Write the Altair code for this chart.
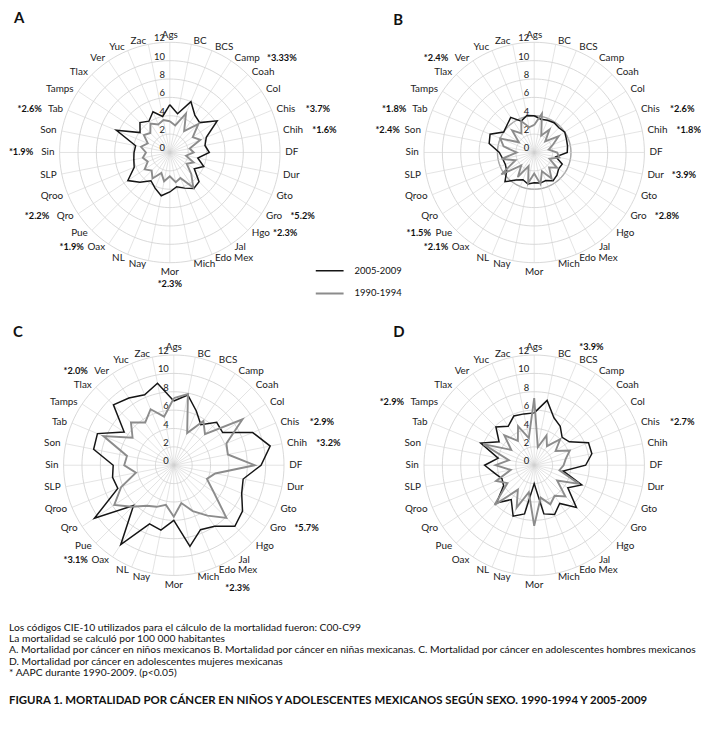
import altair as alt
import pandas as pd

STATES = ["Ags", "BC", "BCS", "Camp", "Coah", "Col", "Chis", "Chih", "DF", "Dur",
          "Gto", "Gro", "Hgo", "Jal", "Edo Mex", "Mich", "Mor", "Nay", "NL", "Oax",
          "Pue", "Qro", "Qroo", "SLP", "Sin", "Son", "Tab", "Tamps", "Tlax", "Ver",
          "Yuc", "Zac"]
PERIODS = ["2005-2009", "1990-1994"]

# A. niños
A_2005 = [5.2, 4.3, 6.0, 4.9, 4.6, 6.2, 4.3, 3.9, 4.3, 3.1, 4.0, 3.2, 4.5, 4.7, 4.2, 3.8,
          4.3, 4.8, 4.2, 3.7, 4.6, 5.5, 4.2, 4.0, 3.9, 3.8, 6.3, 3.9, 4.6, 4.1, 4.8, 4.0]
A_1990 = [3.4, 3.0, 4.6, 2.8, 4.4, 3.0, 3.6, 2.2, 2.6, 1.8, 2.8, 2.2, 3.3, 4.6, 3.0, 3.3,
          2.6, 3.2, 2.4, 3.4, 2.8, 3.3, 2.6, 3.0, 2.6, 3.2, 2.6, 3.4, 3.0, 3.8, 3.3, 3.6]
# B. niñas
B_2005 = [4.0, 3.7, 3.8, 3.9, 3.8, 4.0, 3.8, 3.7, 3.6, 2.4, 3.3, 3.2, 3.5, 3.7, 3.3, 3.4,
          3.3, 3.5, 3.2, 3.6, 4.5, 3.6, 3.4, 3.5, 3.8, 5.0, 5.2, 4.0, 4.2, 4.6, 3.7, 4.1]
B_1990 = [3.0, 4.3, 2.0, 3.0, 1.7, 3.2, 2.2, 1.6, 2.5, 2.8, 1.8, 3.0, 2.3, 3.4, 2.2, 3.5,
          2.3, 3.4, 1.6, 3.2, 2.0, 4.3, 2.2, 3.6, 1.9, 3.4, 4.0, 2.0, 3.4, 2.5, 3.7, 2.8]
# C. adolescentes hombres
C_2005 = [7.0, 7.8, 6.4, 5.3, 6.6, 6.4, 9.3, 10.7, 9.5, 7.7, 8.0, 9.0, 9.4, 8.0, 7.6, 9.0,
          6.0, 7.2, 6.9, 10.4, 6.2, 10.4, 6.6, 6.8, 6.6, 8.9, 9.0, 6.5, 9.3, 8.8, 8.3, 9.1]
C_1990 = [7.3, 7.9, 3.8, 5.8, 4.8, 9.0, 6.2, 6.0, 8.8, 4.6, 3.9, 5.2, 8.1, 6.6, 5.4, 4.2,
          5.6, 4.4, 4.9, 5.3, 6.4, 7.8, 6.2, 4.2, 5.4, 5.2, 8.3, 5.4, 6.6, 5.6, 6.6, 5.4]
# D. adolescentes mujeres
D_2005 = [5.7, 7.2, 5.6, 5.1, 4.3, 4.6, 6.4, 6.4, 5.6, 3.2, 5.6, 4.4, 6.5, 5.0, 5.8, 5.4,
          2.0, 5.4, 6.0, 4.5, 5.8, 4.0, 3.8, 4.4, 5.4, 4.0, 6.3, 4.6, 5.9, 5.1, 5.8, 5.7]
D_1990 = [7.3, 2.0, 3.5, 2.5, 4.0, 2.8, 4.2, 3.5, 3.2, 2.8, 5.3, 3.0, 4.8, 4.0, 4.6, 3.6,
          6.6, 3.0, 5.0, 3.2, 6.1, 3.5, 4.5, 2.6, 4.2, 2.8, 6.0, 3.0, 4.6, 3.2, 4.6, 3.0]

RING_VALUES = [2, 4, 6, 8, 10, 12]
RING_LABELS = [0, 2, 4, 6, 8, 10, 12]
B_EMPHASIS_RING = [4]

A_NOTES_STATE = ["Camp", "Chis", "Chih", "Gro", "Hgo", "Mor", "Oax", "Qro", "Sin", "Tab"]
A_NOTES_TEXT = ["*3.33%", "*3.7%", "*1.6%", "*5.2%", "*2.3%", "*2.3%", "*1.9%", "*2.2%", "*1.9%", "*2.6%"]
B_NOTES_STATE = ["Ver", "Tab", "Son", "Chis", "Chih", "Dur", "Gro", "Pue", "Oax"]
B_NOTES_TEXT = ["*2.4%", "*1.8%", "*2.4%", "*2.6%", "*1.8%", "*3.9%", "*2.8%", "*1.5%", "*2.1%"]
C_NOTES_STATE = ["Ver", "Chis", "Chih", "Gro", "Edo Mex", "Oax"]
C_NOTES_TEXT = ["*2.0%", "*2.9%", "*3.2%", "*5.7%", "*2.3%", "*3.1%"]
D_NOTES_STATE = ["BCS", "Chis", "Tamps"]
D_NOTES_TEXT = ["*3.9%", "*2.7%", "*2.9%"]

FOOTNOTES = [
    "Los códigos CIE-10 utilizados para el cálculo de la mortalidad fueron: C00-C99",
    "La mortalidad se calculó por 100 000 habitantes",
    "A. Mortalidad por cáncer en niños mexicanos B. Mortalidad por cáncer en niñas mexicanas. C. Mortalidad por cáncer en adolescentes hombres mexicanos",
    "D. Mortalidad por cáncer en adolescentes mujeres mexicanas",
    "* AAPC  durante 1990-2009. (p<0.05)",
]
CAPTION = "FIGURA 1. MORTALIDAD POR CÁNCER EN NIÑOS Y ADOLESCENTES MEXICANOS SEGÚN SEXO. 1990-1994 Y 2005-2009"

FONT = "Lato"
K = 9.25  # px per unit
ANG = "datum.idx * PI / 16"


def radar(letter, v2005, v1990, note_states, note_texts, left_px, right_px, top_px,
          bottom_px, letter_x, letter_y, emph=None, extra=()):
    w = left_px + right_px
    h = top_px + bottom_px
    xs = alt.Scale(domain=[-left_px / K, right_px / K], nice=False, zero=False)
    ys = alt.Scale(domain=[-bottom_px / K, top_px / K], nice=False, zero=False)
    X = lambda f: alt.X(f, scale=xs, axis=None)
    Y = lambda f: alt.Y(f, scale=ys, axis=None)

    ring_rows = [{"ring": r, "step": s} for r in RING_VALUES for s in range(129)]
    rings = alt.Chart(pd.DataFrame(ring_rows)).transform_calculate(
        x="datum.ring * sin(datum.step * PI / 64)",
        y="datum.ring * cos(datum.step * PI / 64)",
    ).mark_line(color="#cfcfcf", strokeWidth=0.8).encode(
        x=X("x:Q"), y=Y("y:Q"), detail="ring:N", order="step:Q")

    layers = [rings]
    if emph:
        emph_rows = [{"ring": r, "step": s} for r in emph for s in range(129)]
        layers.append(alt.Chart(pd.DataFrame(emph_rows)).transform_calculate(
            x="datum.ring * sin(datum.step * PI / 64)",
            y="datum.ring * cos(datum.step * PI / 64)",
        ).mark_line(color="#a8a8a8", strokeWidth=1.4).encode(
            x=X("x:Q"), y=Y("y:Q"), detail="ring:N", order="step:Q"))

    sdf = pd.DataFrame({"state": STATES, "idx": list(range(32))})
    base_s = alt.Chart(sdf).transform_calculate(
        s="sin(" + ANG + ")", c="cos(" + ANG + ")", z="0"
    ).transform_calculate(
        sx="12 * datum.s", sy="12 * datum.c",
        lx="12.4 * datum.s", ly="12.4 * datum.c")

    spokes = base_s.mark_rule(color="#d2d2d2", strokeWidth=0.6).encode(
        x=X("z:Q"), y=Y("z:Q"), x2="sx:Q", y2="sy:Q")
    layers.append(spokes)

    rl = alt.Chart(pd.DataFrame({"v": RING_LABELS})).transform_calculate(z="0").mark_text(
        align="right", baseline="middle", dx=-5, dy=-4, font=FONT, fontSize=9.5,
        color="#222").encode(x=X("z:Q"), y=Y("v:Q"), text="v:Q")
    layers.append(rl)

    rows = []
    for p, vals in zip(PERIODS, [v2005, v1990]):
        for i in range(33):
            rows.append({"period": p, "idx": i, "state": STATES[i % 32],
                         "value": vals[i % 32]})
    series = alt.Chart(pd.DataFrame(rows)).transform_calculate(
        x="datum.value * sin(" + ANG + ")", y="datum.value * cos(" + ANG + ")"
    ).mark_line(strokeJoin="miter").encode(
        x=X("x:Q"), y=Y("y:Q"),
        color=alt.Color("period:N", scale=alt.Scale(domain=PERIODS, range=["#151515", "#8c8c8c"]),
                        legend=alt.Legend(title=None, orient="none", legendX=308, legendY=256,
                                          symbolType="stroke", symbolSize=784,
                                          symbolStrokeWidth=1.6, labelFont=FONT,
                                          labelFontSize=9.5, labelOffset=10,
                                          clipHeight=12, rowPadding=11, labelColor="#111")),
        strokeWidth=alt.StrokeWidth("period:N", scale=alt.Scale(domain=PERIODS, range=[1.5, 1.9]),
                                    legend=None),
        order="idx:Q")
    layers.append(series)

    lab_kw = dict(font=FONT, fontSize=10, color="#222")
    layers += [
        base_s.transform_filter("datum.s > 0.1").mark_text(
            align="left", baseline="middle", dx=1.5, **lab_kw).encode(
            x=X("lx:Q"), y=Y("ly:Q"), text="state:N"),
        base_s.transform_filter("datum.s < -0.1").mark_text(
            align="right", baseline="middle", dx=-1.5, **lab_kw).encode(
            x=X("lx:Q"), y=Y("ly:Q"), text="state:N"),
        base_s.transform_filter("abs(datum.s) <= 0.1 && datum.c > 0").mark_text(
            align="center", baseline="bottom", dy=1, **lab_kw).encode(
            x=X("lx:Q"), y=Y("ly:Q"), text="state:N"),
        base_s.transform_filter("abs(datum.s) <= 0.1 && datum.c < 0").mark_text(
            align="center", baseline="top", dy=1, **lab_kw).encode(
            x=X("lx:Q"), y=Y("ly:Q"), text="state:N"),
    ]

    ndf = pd.DataFrame({"state": note_states, "note": note_texts,
                        "idx": [STATES.index(s) for s in note_states]})
    base_n = alt.Chart(ndf).transform_calculate(
        s="sin(" + ANG + ")", c="cos(" + ANG + ")",
        n="length(datum.state)",
        wide="length(replace(datum.state, regexp('[^mMCDGQ]', 'g'), ''))"
    ).transform_calculate(
        sx="12.4 * datum.s", sy="12.4 * datum.c",
        lw="datum.n * 0.52 + datum.wide * 0.35")
    note_kw = dict(font=FONT, fontSize=9.3, fontWeight="bold", color="#111")
    layers += [
        base_n.transform_filter("datum.s > 0.45").transform_calculate(
            ax="datum.sx + datum.lw + 0.75").mark_text(
            align="left", baseline="middle", dx=1.5, **note_kw).encode(
            x=X("ax:Q"), y=Y("sy:Q"), text="note:N"),
        base_n.transform_filter("datum.s < -0.45").transform_calculate(
            ax="datum.sx - datum.lw - 0.75").mark_text(
            align="right", baseline="middle", dx=-1.5, **note_kw).encode(
            x=X("ax:Q"), y=Y("sy:Q"), text="note:N"),
        base_n.transform_filter("abs(datum.s) <= 0.45 && datum.c > 0").mark_text(
            align="left", baseline="middle", dx=1.5, dy=-13, **note_kw).encode(
            x=X("sx:Q"), y=Y("sy:Q"), text="note:N"),
        base_n.transform_filter("abs(datum.s) <= 0.45 && datum.c < 0").transform_calculate(
            ax="datum.sx + (datum.s > 0.1 ? datum.lw * 0.5 + 0.2 : 0)").mark_text(
            align="center", baseline="middle", dy=18, **note_kw).encode(
            x=X("ax:Q"), y=Y("sy:Q"), text="note:N"),
    ]

    layers.append(alt.Chart(pd.DataFrame({"t": [letter]})).mark_text(
        align="left", baseline="top", font=FONT, fontSize=15, fontWeight="bold",
        color="#111").encode(x=alt.value(letter_x), y=alt.value(letter_y), text="t:N"))

    layers += list(extra)
    return alt.layer(*layers).properties(width=w, height=h)


# footnotes and caption, drawn below panel C (overflowing its plot area)
notes_text = alt.Chart(pd.DataFrame({"t": ["\n".join(FOOTNOTES)]})).mark_text(
    align="left", baseline="middle", font=FONT, fontSize=10.35, lineHeight=11.25,
    lineBreak="\n", color="#111").encode(x=alt.value(0), y=alt.value(314), text="t:N")
caption_text = alt.Chart(pd.DataFrame({"t": [CAPTION]})).mark_text(
    align="left", baseline="middle", font=FONT, fontSize=11.5, fontWeight="bold",
    color="#111").encode(x=alt.value(0), y=alt.value(387), text="t:N")

pA = radar("A", A_2005, A_1990, A_NOTES_STATE, A_NOTES_TEXT, 162, 180, 143, 157, 5, 1)
pB = radar("B", B_2005, B_1990, B_NOTES_STATE, B_NOTES_TEXT, 162, 164, 143, 157, 20, 3,
           emph=B_EMPHASIS_RING)
pC = radar("C", C_2005, C_1990, C_NOTES_STATE, C_NOTES_TEXT, 166, 176, 150, 140, 4, 9,
           extra=(notes_text, caption_text))
pD = radar("D", D_2005, D_1990, D_NOTES_STATE, D_NOTES_TEXT, 162, 164, 150, 140, 20, 9)

chart = alt.concat(pA, pB, pC, pD, columns=2, spacing={"row": 8, "column": 25},
                   bounds="flush").properties(padding=0).configure_view(stroke=None)

chart.save("out.html", embed_options={"renderer": "svg", "actions": False})
